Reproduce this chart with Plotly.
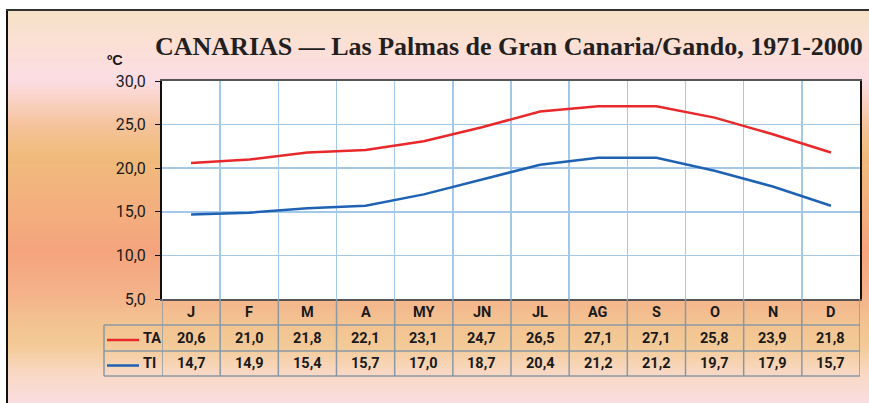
import numpy as np
import plotly.graph_objects as go

months = ["J", "F", "M", "A", "MY", "JN", "JL", "AG", "S", "O", "N", "D"]
ta = [20.6, 21.0, 21.8, 22.1, 23.1, 24.7, 26.5, 27.1, 27.1, 25.8, 23.9, 21.8]
ti = [14.7, 14.9, 15.4, 15.7, 17.0, 18.7, 20.4, 21.2, 21.2, 19.7, 17.9, 15.7]
series_names = ["TA", "TI"]
title_text = "CANARIAS — Las Palmas de Gran Canaria/Gando, 1971-2000"
unit_text = "ºC"

W, H = 869, 403
RED = "#e8282b"
BLUE = "#1f62b4"
GRID = "#a3c8ea"
TBL = "#8a98a4"
SANS = "Roboto, Liberation Sans, Arial, sans-serif"

def px(x):
    return x / W

def py(y):
    return 1 - y / H

# plot area in pixels
PL, PR, PT, PB = 162, 860, 81, 299
ROW_H = [299, 325, 351, 376]

fig = go.Figure()
fig.add_trace(go.Scatter(x=months, y=ta, mode="lines", name=series_names[0],
                         line=dict(color=RED, width=2.5), showlegend=False))
fig.add_trace(go.Scatter(x=months, y=ti, mode="lines", name=series_names[1],
                         line=dict(color=BLUE, width=2.5), showlegend=False))

shapes = []
# background gradient (horizontal bands)
stops = [(10, "#f5e2c6"), (40, "#fbe0d3"), (80, "#fbdde4"), (100, "#f9d2c4"),
         (125, "#f5c39c"), (155, "#f0bb7a"), (195, "#f2b27e"), (250, "#f5a47d"),
         (290, "#f4b088"), (320, "#f3c191"), (345, "#f3ca96"), (372, "#f8d8c2"),
         (403, "#fadde0")]
sy = np.array([s[0] for s in stops], float)
sc = np.array([[int(c[1:3], 16), int(c[3:5], 16), int(c[5:7], 16)] for _, c in stops], float)
step = 3
for y0 in range(11, 403, step):
    yc = y0 + step / 2
    col = [int(round(np.interp(yc, sy, sc[:, k]))) for k in range(3)]
    shapes.append(dict(type="rect", xref="paper", yref="paper",
                       x0=px(8), x1=1.0, y0=py(min(y0 + step + 0.6, 403)), y1=py(y0),
                       fillcolor="rgb(%d,%d,%d)" % tuple(col), line=dict(width=0), layer="below"))
# white plot background
shapes.append(dict(type="rect", xref="x domain", yref="y domain", x0=0, x1=1, y0=0, y1=1,
                   fillcolor="white", line=dict(width=0), layer="below"))
# outer frame
shapes.append(dict(type="line", xref="paper", yref="paper", x0=px(7), x1=px(7), y0=0, y1=py(10),
                   line=dict(color="#111", width=2)))
shapes.append(dict(type="line", xref="paper", yref="paper", x0=px(6), x1=1, y0=py(10), y1=py(10),
                   line=dict(color="#333", width=2)))

# table lines
for i in range(len(months) + 1):
    xv = i - 0.5
    shapes.append(dict(type="line", xref="x", yref="paper", x0=xv, x1=xv,
                       y0=py(ROW_H[-1]), y1=py(ROW_H[0]), line=dict(color=TBL, width=1.5)))
for yy in ROW_H[1:]:
    shapes.append(dict(type="line", xref="paper", yref="paper", x0=px(104), x1=px(PR),
                       y0=py(yy), y1=py(yy), line=dict(color=TBL, width=1.5)))
shapes.append(dict(type="line", xref="paper", yref="paper", x0=px(104), x1=px(104),
                   y0=py(ROW_H[-1]), y1=py(ROW_H[1]), line=dict(color=TBL, width=1.5)))

annotations = []
row_centers = [(ROW_H[k] + ROW_H[k + 1]) / 2 for k in range(3)]
font_b = dict(family=SANS, size=14.5, color="#1a1a1a")
for i, m in enumerate(months):
    annotations.append(dict(x=m, y=py(row_centers[0]), xref="x", yref="paper", text="<b>%s</b>" % m,
                            showarrow=False, font=font_b, xanchor="center", yanchor="middle"))
    for r, vals in ((1, ta), (2, ti)):
        annotations.append(dict(x=m, y=py(row_centers[r]), xref="x", yref="paper",
                                text="<b>%s</b>" % ("%.1f" % vals[i]).replace(".", ","),
                                showarrow=False, font=font_b, xanchor="center", yanchor="middle"))
# legend column
for r, (nm, col) in enumerate(zip(series_names, [RED, BLUE]), start=1):
    yc = row_centers[r] + 2
    shapes.append(dict(type="line", xref="paper", yref="paper", x0=px(107), x1=px(139),
                       y0=py(yc), y1=py(yc), line=dict(color=col, width=2.5)))
    annotations.append(dict(x=px(141), y=py(row_centers[r]), xref="paper", yref="paper",
                            text="<b>%s</b>" % nm, showarrow=False, font=font_b,
                            xanchor="left", yanchor="middle"))

# title and unit
annotations.append(dict(x=px(153), y=py(47), xref="paper", yref="paper", text="<b>%s</b>" % title_text,
                        showarrow=False, xanchor="left", yanchor="middle",
                        font=dict(family="Liberation Serif, Times New Roman, serif", size=26, color="#231f20")))
annotations.append(dict(x=px(105), y=py(60), xref="paper", yref="paper", text="<b>%s</b>" % unit_text,
                        showarrow=False, xanchor="left", yanchor="middle",
                        font=dict(family="Liberation Sans, Arial, sans-serif", size=14.5, color="#1a1a1a")))

fig.update_layout(
    width=W, height=H, margin=dict(l=0, r=0, t=0, b=0, pad=0, autoexpand=False),
    paper_bgcolor="white", plot_bgcolor="rgba(0,0,0,0)",
    separators=",.", hovermode=False,
    shapes=shapes, annotations=annotations,
    xaxis=dict(domain=[px(PL), px(PR)], type="category", tickson="boundaries", automargin=False,
               showgrid=True, gridcolor=GRID, gridwidth=1.5, showticklabels=False, ticks="",
               showline=True, linecolor="#555", linewidth=2, mirror=True,
               range=[-0.5, len(months) - 0.5], fixedrange=True, zeroline=False),
    yaxis=dict(domain=[py(PB), py(PT)], range=[5, 30], dtick=5, tick0=5, tickformat=".1f",
               automargin=False, fixedrange=True,
               showgrid=True, gridcolor=GRID, gridwidth=1.5, zeroline=False,
               ticks="outside", ticklen=5, tickcolor="#111", tickwidth=1,
               showline=True, linecolor="#111", linewidth=2, mirror=True,
               tickfont=dict(family=SANS, size=16, color="#1a1a1a"), ticklabelstandoff=6),
)

fig.write_html("out.html", config={"displayModeBar": False, "staticPlot": True},
               post_script="document.body.style.margin='0px';")
